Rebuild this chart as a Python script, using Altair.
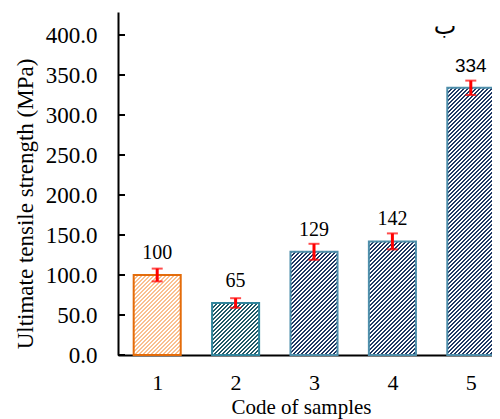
import math
import altair as alt
import pandas as pd

# ---- data ----
codes = [1, 2, 3, 4, 5]
uts = [100, 65, 129, 142, 334]
err = [8, 6, 10, 10, 9]
y_ticks = [0, 50, 100, 150, 200, 250, 300, 350, 400]
x_ticks = [1, 2, 3, 4, 5]
y_title = "Ultimate tensile strength (MPa)"
x_title = "Code of samples"
panel_tag = "ب"

# ---- layout ----
W, H = 374, 343
Y_MAX = 428.75
X_MIN = 0.5
STEP_PX = 78.4
X_MAX = X_MIN + W / STEP_PX
BAR_HALF = 0.3
px_per_unit_y = H / Y_MAX
BAR_W = 2 * BAR_HALF * STEP_PX

SERIF = "Liberation Serif"
SANS = "Liberation Sans"

df = pd.DataFrame({"code": codes, "uts": uts, "err": err})
df["lo"] = df["uts"] - df["err"]
df["hi"] = df["uts"] + df["err"]
df["x0"] = df["code"] - BAR_HALF
df["x1"] = df["code"] + BAR_HALF

xscale = alt.Scale(domain=[X_MIN, X_MAX], nice=False, zero=False)
yscale = alt.Scale(domain=[0, Y_MAX], nice=False, zero=True)

styles = {
    1: ("#FAC090", "#E46C0A"),
    2: ("#215967", "#31859C"),
    3: ("#1F3864", "#4F8FAB"),
    4: ("#1F3864", "#4F8FAB"),
    5: ("#1F3864", "#4F8FAB"),
}


def stripe_gradient(w, h, dark, light="#FFFFFF", period=4 / math.sqrt(2), frac=0.55):
    r = h / w
    k = (1 + r) / (1 + r * r)
    d = (w + h) / math.sqrt(2)
    n = d / period
    stops = []
    i = 0
    while i < n:
        a = i / n
        b = min((i + frac) / n, 1.0)
        c = min((i + 1) / n, 1.0)
        stops += [(a, dark), (b, dark), (b, light), (c, light)]
        i += 1
    return alt.LinearGradient(
        gradient="linear",
        stops=[alt.GradientStop(offset=round(o, 6), color=col) for o, col in stops],
        x1=0, y1=0, x2=round(k, 7), y2=round(k * r, 7),
    )


base = alt.Chart(df)

y_axis = alt.Axis(
    values=y_ticks, format=".1f", grid=False, ticks=False, tickSize=0,
    labelFont=SERIF, labelFontSize=23, labelColor="black", labelPadding=21,
    domainColor="black", domainWidth=2,
    title=y_title, titleFont=SERIF, titleFontSize=23, titleFontWeight="normal",
    titleColor="black", titleAngle=-90, titleX=-93, titleY=191.5,
    titleBaseline="middle", titleAlign="center",
)
x_axis = alt.Axis(
    values=x_ticks, format="d", grid=False, ticks=False, tickSize=0,
    labelFont=SERIF, labelFontSize=22, labelColor="black", labelPadding=17,
    labelFlush=False, domainColor="black", domainWidth=2,
    title=x_title, titleFont=SERIF, titleFontSize=21, titleFontWeight="normal",
    titleColor="black", titleX=183, titleY=58, titleBaseline="alphabetic",
    titleAlign="center",
)


def X(field):
    return alt.X(field, scale=xscale, axis=x_axis)


def Y(field):
    return alt.Y(field, scale=yscale, axis=y_axis)


layers = []
for i, c in enumerate(codes):
    dark, stroke = styles[c]
    grad = stripe_gradient(BAR_W, uts[i] * px_per_unit_y, dark)
    layers.append(
        base.transform_filter(alt.datum.code == c)
        .mark_bar(fill=grad, stroke=stroke, strokeWidth=2)
        .encode(x=X("x0:Q"), x2="x1:Q", y=Y("uts:Q"), y2=alt.datum(0))
    )

err_rule = base.mark_rule(color="#FF0000", strokeWidth=3).encode(
    x=X("code:Q"), y=Y("lo:Q"), y2="hi:Q"
)
cap_hi = base.mark_tick(orient="horizontal", color="#FF0000", size=11, thickness=2).encode(
    x=X("code:Q"), y=Y("hi:Q")
)
cap_lo = base.mark_tick(orient="horizontal", color="#FF0000", size=11, thickness=2).encode(
    x=X("code:Q"), y=Y("lo:Q")
)

lab_serif = base.transform_filter(alt.datum.code < 5).mark_text(
    font=SERIF, fontSize=20, color="black", baseline="alphabetic", dy=-16
).encode(x=X("code:Q"), y=Y("uts:Q"), text=alt.Text("uts:Q", format="d"))
lab_sans = base.transform_filter(alt.datum.code == 5).mark_text(
    font=SANS, fontSize=19, color="black", baseline="alphabetic", dy=-16
).encode(x=X("code:Q"), y=Y("uts:Q"), text=alt.Text("uts:Q", format="d"))

inner_ticks = alt.Chart(pd.DataFrame({"t": y_ticks})).mark_rule(
    color="black", strokeWidth=2
).encode(y=Y("t:Q"), x=alt.value(0), x2=alt.value(7))

tag = alt.Chart(pd.DataFrame({"t": [panel_tag]})).mark_text(
    font="DejaVu Sans", fontSize=24, color="black", align="center", baseline="alphabetic"
).encode(x=alt.value(327), y=alt.value(22), text="t:N")

chart = (
    alt.layer(*layers, err_rule, cap_hi, cap_lo, lab_serif, lab_sans, inner_ticks, tag)
    .properties(
        width=W, height=H,
        padding={"left": 110, "top": 4, "right": 0, "bottom": 64},
        autosize=alt.AutoSizeParams(type="none"),
    )
    .configure_view(stroke=None)
)

chart.save("out.html", embed_options={"renderer": "svg", "actions": False})
